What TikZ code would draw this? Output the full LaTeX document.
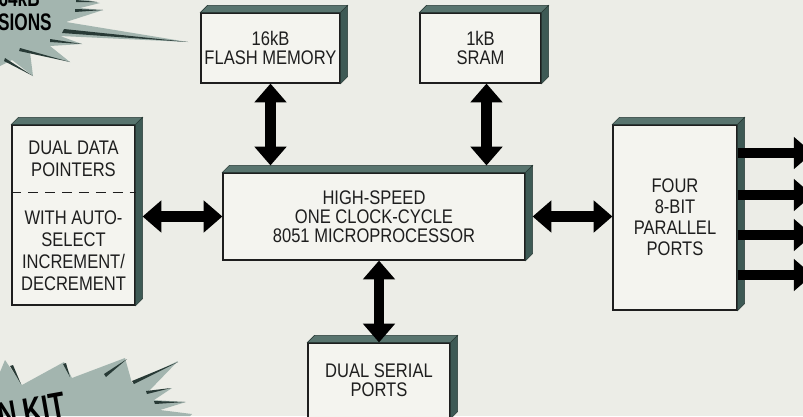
\documentclass[tikz,border=0pt]{standalone}
\usepackage{fontspec}
\setmainfont{Liberation Sans}[FakeStretch=0.84]
\newfontfamily\burstfont{Liberation Sans Bold}[FakeStretch=0.72]
\usepackage{xcolor}
\usepackage{tikz}
\usetikzlibrary{arrows.meta, positioning, calc}
\definecolor{paperbg}{RGB}{236, 237, 231}
\definecolor{boxfront}{RGB}{244, 244, 239}
\definecolor{beveltop}{RGB}{88, 116, 110}
\definecolor{bevelside}{RGB}{62, 90, 85}
\definecolor{burstgray}{RGB}{163, 181, 175}
\definecolor{streakdark}{RGB}{40, 58, 54}
\definecolor{inkgray}{RGB}{30, 30, 30}

% depth of the 3D bevel, in px
\newcommand{\dep}{7}
\newcommand{\bevelbox}[1]{%
  \fill[beveltop, draw=streakdark, line width=0.4pt] (#1.north west) -- ++(\dep,-\dep) -- ($(#1.north east)+(\dep,-\dep)$) -- (#1.north east) -- cycle;
  \fill[bevelside, draw=streakdark, line width=0.4pt] (#1.north east) -- ++(\dep,-\dep) -- ($(#1.south east)+(\dep,-\dep)$) -- (#1.south east) -- cycle;
}

\begin{document}
\begin{tikzpicture}[
    x=0.025cm, y=-0.025cm,
    block/.style={rectangle, draw=inkgray, line width=0.8pt, fill=boxfront, inner sep=0pt, align=center, text=inkgray, font=\fontsize{14}{13.6}\selectfont},
    tallblock/.style={block, font=\fontsize{14}{15.6}\selectfont},
    dbl/.style={{Triangle[width=0.78cm,length=0.47cm]}-{Triangle[width=0.78cm,length=0.47cm]}, line width=0.27cm, black},
    outarrow/.style={-{Triangle[width=0.78cm,length=0.47cm]}, line width=0.27cm, black},
    bursttext/.style={font=\burstfont\fontsize{17}{17}\selectfont, text=black, inner sep=0pt}
]
\useasboundingbox[fill=paperbg] (0,0) rectangle (803,416);

% starburst, top left
\fill[burstgray] (0,0) -- (88,0) -- (100,3) -- (80,8) -- (103,10) -- (66,22) -- (188,42) -- (60,36) -- (82,44) -- (50,46) -- (70,62) -- (30,52) -- (33,76) -- (12,60) -- (0,66) -- cycle;
\fill[streakdark] (64,29) -- (188,42) -- (62,33) -- cycle;
\fill[streakdark] (50,39) -- (82,44) -- (50,42) -- cycle;
\fill[streakdark] (20,48) -- (70,62) -- (19,51) -- cycle;
\fill[streakdark] (5,58) -- (33,76) -- (4,61) -- cycle;
\fill[streakdark] (76,0) -- (97,2) -- (76,2) -- cycle;
\fill[streakdark] (75,9) -- (103,10) -- (75,12) -- cycle;
\node[bursttext, anchor=base east] (ver64) at (40,6) {64kB};
\node[bursttext, anchor=base east] (versions) at (52,30) {SIONS};

% starburst, bottom left
\fill[burstgray] (0,416) -- (0,372) -- (5,360) -- (22,385) -- (64,362) -- (72,378) -- (125,358) -- (132,383) -- (178,361) -- (148,392) -- (172,388) -- (154,400) -- (186,402) -- (160,410) -- (192,414) -- (190,416) -- cycle;
\fill[streakdark] (10,366) -- (21,384) -- (13,365) -- cycle;
\fill[streakdark] (63,364) -- (70,377) -- (66,363) -- cycle;
\fill[streakdark] (104,374) -- (127,359) -- (106,377) -- cycle;
\fill[streakdark] (132,381) -- (178,362) -- (134,384) -- cycle;
\fill[streakdark] (146,391) -- (171,388) -- (147,394) -- cycle;
\fill[streakdark] (154,401) -- (185,402) -- (155,404) -- cycle;
\node[bursttext, font=\burstfont\fontsize{26}{26}\selectfont, anchor=base east, rotate=10] (kit) at (68,417) {ON KIT};

% blocks
\node[block, minimum width=3.475cm, minimum height=1.75cm] (flash) at (270.5,48) {16kB\\FLASH MEMORY};
\node[block, minimum width=3.025cm, minimum height=1.75cm] (sram) at (480.5,48) {1kB\\SRAM};
\node[block, minimum width=7.55cm, minimum height=2.175cm] (cpu) at (374,216.5) {HIGH-SPEED\\ONE CLOCK-CYCLE\\8051 MICROPROCESSOR};
\node[tallblock, minimum width=3.075cm, minimum height=4.5cm] (dptr) at (73.5,215) {};
\node[tallblock, font=\fontsize{14}{15}\selectfont, minimum width=3.1cm, minimum height=4.625cm] (ports) at (675,217.5) {FOUR\\8-BIT\\PARALLEL\\PORTS};
\node[block, minimum width=3.55cm, minimum height=1.875cm] (serial) at (379,380.5) {DUAL SERIAL\\PORTS};

\foreach \b in {flash,sram,cpu,dptr,ports,serial}
  \bevelbox{\b};

% text of the pointer block
\node[tallblock, draw=none, fill=none] (dptrtop) at (73.5,159) {DUAL DATA\\POINTERS};
\node[tallblock, draw=none, fill=none] (dptrbot) at (73.5,251) {WITH AUTO-\\SELECT\\INCREMENT/\\DECREMENT};
\draw[inkgray, dashed, dash pattern=on 7pt off 5pt, line width=0.6pt] (dptr.west |- 0,192) -- (dptr.east |- 0,192);

% connectors
\draw[dbl] (flash.south) -- ($(cpu.north -| flash.south)+(0,-\dep)$);
\draw[dbl] ($(sram.south)+(6,0)$) -- ($(cpu.north -| sram.south)+(6,-\dep)$);
\draw[dbl] ($(dptr.east |- cpu.west)+(\dep,0)$) -- (cpu.west);
\draw[dbl] ($(cpu.east)+(\dep,0)$) -- (ports.west |- cpu.east);
\draw[dbl] (cpu.south -| serial.north) -- (serial.north);
\foreach \dy in {-64.5,-22.5,17.5,57.5}
  \draw[outarrow] ($(ports.east)+(0,\dy)$) -- ++(75,0);
\end{tikzpicture}
\end{document}
